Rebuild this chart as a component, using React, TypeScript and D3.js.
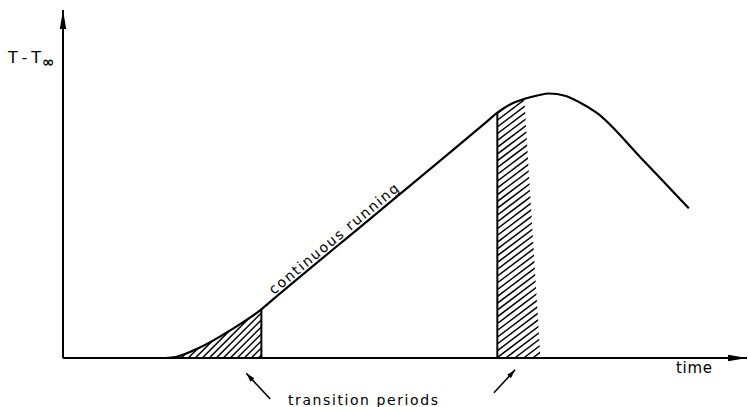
import React from 'react';
import * as d3 from 'd3';

const W = 748;
const H = 407;

// curve: time vs T - T∞ (arbitrary units)
const curveTime = [15, 16.5, 20, 24.5, 29, 30.5, 46, 62, 63.5, 65.5, 67.5, 69.5, 71, 73.5, 75.5, 78, 84.5, 91.5];
const curveTemp = [0, 0.3, 3, 8, 14, 16.5, 41.8, 68.0, 70.5, 73, 74.5, 75.5, 76, 75.3, 73.5, 70.5, 57.5, 43];

// transition periods (hatched areas)
const periodStart = [15, 63.5];
const periodEndTop = [29, 67.2];
const periodEndBottom = [29, 69.8];
const periodEdge = [29, 63.5]; // vertical boundary line of each period
const hatchAngle = [45, 37];
const hatchStep = [7, 9];

// annotation arrows pointing at the periods (tail -> head)
const arrowTail = [[30.3, -11.8], [63.0, -10.0]];
const arrowHead = [[26.8, -4.4], [66.1, -3.4]];

const xLabel = 'time';
const yLabel = 'T-T';
const yLabelSub = '∞';
const lineLabel = 'continuous running';
const lineLabelAt = 31.1;
const noteLabel = 'transition periods';

const FONT = '"DejaVu Sans", sans-serif';

export default function App() {
  const x = d3.scaleLinear().domain([0, 100]).range([63, 747]);
  const y = d3.scaleLinear().domain([0, 100]).range([358, 10]);

  const pts: [number, number][] = curveTime.map((t, i) => [t, curveTemp[i]]);
  const line = d3.line<[number, number]>()
    .x(d => x(d[0])).y(d => y(d[1]))
    .curve(d3.curveMonotoneX);
  const area = d3.area<[number, number]>()
    .x(d => x(d[0])).y0(y(0)).y1(d => y(d[1]))
    .curve(d3.curveMonotoneX);

  // straight "continuous running" part of the curve
  const i0 = curveTime.indexOf(29);
  const i1 = curveTime.indexOf(63.5);
  const ax = x(curveTime[i0]), ay = y(curveTemp[i0]);
  const bx = x(curveTime[i1]), by = y(curveTemp[i1]);
  const angle = Math.atan2(by - ay, bx - ax) * 180 / Math.PI;
  const lx = x(lineLabelAt);
  const ly = ay + (by - ay) * (lx - ax) / (bx - ax);

  const hatches = periodStart.map((s, i) => {
    const x0 = x(s);
    const x1 = Math.max(x(periodEndTop[i]), x(periodEndBottom[i]));
    const top = y(82);
    const base = y(0);
    const a = hatchAngle[i] * Math.PI / 180;
    const h = base - top;
    const reach = h / Math.tan(a);
    const segs: [number, number, number, number][] = [];
    for (let bxp = x0 - reach - hatchStep[i]; bxp <= x1 + hatchStep[i]; bxp += hatchStep[i]) {
      segs.push([bxp, base, bxp + reach + 4, top - 4 * Math.tan(a)]);
    }
    const poly = [
      [x(s), y(0)],
      [x(s), top],
      [x(periodEndTop[i]), top],
      [x(periodEndBottom[i]), y(0)],
    ].map(p => p.join(',')).join(' ');
    return { segs, poly };
  });

  const edgeTemp = periodEdge.map(t => curveTemp[curveTime.indexOf(t)]);

  return (
    <svg width={W} height={H} style={{ position: 'absolute', left: 0, top: 0, background: '#fff' }}>
      <defs>
        <marker id="axisHead" markerUnits="userSpaceOnUse" markerWidth={20} markerHeight={8}
          viewBox="-19 -4 20 8" refX={0} refY={0} orient="auto">
          <path d="M0,0 L-19,-3.2 L-19,3.2 Z" fill="#000" />
        </marker>
        <marker id="noteHead" markerUnits="userSpaceOnUse" markerWidth={10} markerHeight={6}
          viewBox="-9 -3 10 6" refX={0} refY={0} orient="auto">
          <path d="M0,0 L-9,-2.6 L-9,2.6 Z" fill="#000" />
        </marker>
        <clipPath id="underCurve">
          <path d={area(pts) ?? ''} />
        </clipPath>
        {hatches.map((hch, i) => (
          <clipPath id={`period${i}`} key={i}>
            <polygon points={hch.poly} />
          </clipPath>
        ))}
      </defs>

      {/* hatching */}
      <g clipPath="url(#underCurve)">
        {hatches.map((hch, i) => (
          <g clipPath={`url(#period${i})`} key={i}>
            {hch.segs.map((s, j) => (
              <line key={j} x1={s[0]} y1={s[1]} x2={s[2]} y2={s[3]} stroke="#000" strokeWidth={1.5} />
            ))}
          </g>
        ))}
      </g>

      {periodEdge.map((t, i) => (
        <line key={i} x1={x(t)} x2={x(t)} y1={y(0)} y2={y(edgeTemp[i])} stroke="#000" strokeWidth={2} />
      ))}

      {/* axes */}
      <line x1={x(0)} y1={y(0)} x2={x(0)} y2={y(100)} stroke="#000" strokeWidth={2} markerEnd="url(#axisHead)" />
      <line x1={x(0)} y1={y(0)} x2={x(100)} y2={y(0)} stroke="#000" strokeWidth={2} markerEnd="url(#axisHead)" />

      {/* curve */}
      <path d={line(pts) ?? ''} fill="none" stroke="#000" strokeWidth={2.2} />

      {/* labels */}
      <text x={8} y={63} fontFamily={FONT} fontSize={16} textLength={33} lengthAdjust="spacing">{yLabel}</text>
      <text x={42} y={67} fontFamily={FONT} fontSize={15} fontWeight="bold">{yLabelSub}</text>
      <text x={676} y={373} fontFamily={FONT} fontSize={15} textLength={36} lengthAdjust="spacing">{xLabel}</text>
      <text transform={`translate(${lx},${ly}) rotate(${angle})`} dy={-3}
        fontFamily={FONT} fontSize={14} textLength={164} lengthAdjust="spacing">{lineLabel}</text>
      <text x={288} y={405} fontFamily={FONT} fontSize={14} textLength={150} lengthAdjust="spacing">{noteLabel}</text>

      {/* arrows */}
      {arrowTail.map((tl, i) => (
        <line key={i} x1={x(tl[0])} y1={y(tl[1])} x2={x(arrowHead[i][0])} y2={y(arrowHead[i][1])}
          stroke="#000" strokeWidth={1.6} markerEnd="url(#noteHead)" />
      ))}
    </svg>
  );
}
